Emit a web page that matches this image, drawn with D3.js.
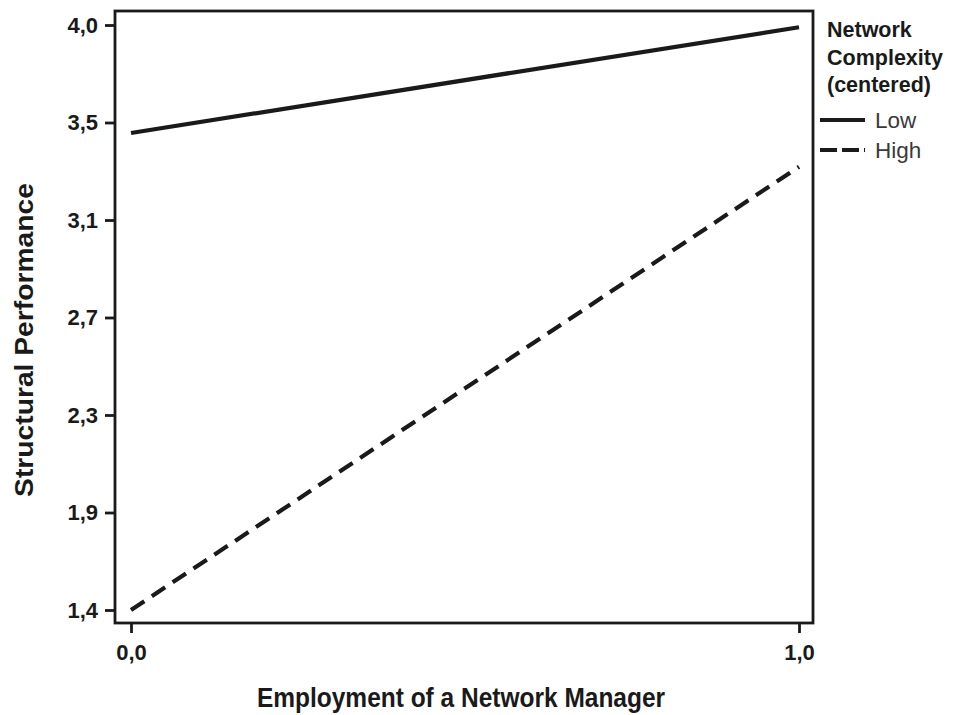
<!DOCTYPE html>
<html>
<head>
<meta charset="utf-8">
<script src="https://cdn.jsdelivr.net/npm/d3@7"></script>
<style>
  body { margin: 0; background: #fff; }
  svg { display: block; font-family: "Liberation Sans", Arial, sans-serif; }
</style>
</head>
<body>
<svg id="chart" width="953" height="715"></svg>
<script>
// Predicted structural performance at the two levels of manager employment
const xValues = [0, 1];
const seriesNames = ["Low", "High"];
const lowValues = [3.52, 3.99];
const highValues = [1.40, 3.37];

// Axis ticks (evenly spaced between 1.4 and 4.0, labelled with rounded values)
const yTickValues = [1.4, 1.8333, 2.2667, 2.7, 3.1333, 3.5667, 4.0];
const yTickLabels = ["1,4", "1,9", "2,3", "2,7", "3,1", "3,5", "4,0"];
const xTickValues = [0, 1];
const xTickLabels = ["0,0", "1,0"];

const svg = d3.select("#chart");
const frame = { left: 115, right: 813, top: 11, bottom: 623 };
const ink = "#1a1a1a";

const x = d3.scaleLinear().domain([0, 1]).range([131, 799]);
const y = d3.scaleLinear().domain([1.4, 4.0]).range([610, 25]);

// Plot frame
svg.append("rect")
  .attr("x", frame.left).attr("y", frame.top)
  .attr("width", frame.right - frame.left)
  .attr("height", frame.bottom - frame.top)
  .attr("fill", "none").attr("stroke", ink).attr("stroke-width", 2.8);

// Y axis
const yAxis = d3.axisLeft(y)
  .tickValues(yTickValues)
  .tickSize(10)
  .tickPadding(7)
  .tickFormat((d, i) => yTickLabels[i]);
const gy = svg.append("g").attr("transform", `translate(${frame.left},0)`).call(yAxis);
gy.select(".domain").remove();
gy.selectAll(".tick line").attr("stroke", ink).attr("stroke-width", 2.8);
gy.selectAll(".tick text")
  .attr("fill", ink).attr("font-size", 22).attr("font-weight", "bold");

// X axis
const xAxis = d3.axisBottom(x)
  .tickValues(xTickValues)
  .tickSize(10)
  .tickPadding(11)
  .tickFormat((d, i) => xTickLabels[i]);
const gx = svg.append("g").attr("transform", `translate(0,${frame.bottom})`).call(xAxis);
gx.select(".domain").remove();
gx.selectAll(".tick line").attr("stroke", ink).attr("stroke-width", 2.8);
gx.selectAll(".tick text")
  .attr("fill", ink).attr("font-size", 22).attr("font-weight", "bold");

// Axis titles
svg.append("text")
  .attr("transform", "translate(461,707) scale(1,1.13)")
  .attr("text-anchor", "middle")
  .attr("font-size", 24.5).attr("font-weight", "bold").attr("fill", ink)
  .text("Employment of a Network Manager");

svg.append("text")
  .attr("transform", "translate(33,340) scale(1,1.13) rotate(-90)")
  .attr("text-anchor", "middle")
  .attr("font-size", 25).attr("font-weight", "bold").attr("fill", ink)
  .text("Structural Performance");

// Lines
const line = d3.line().x((d, i) => x(xValues[i])).y(d => y(d));
const dashes = { Low: null, High: "16,9" };
[lowValues, highValues].forEach((vals, k) => {
  svg.append("path")
    .datum(vals)
    .attr("d", line)
    .attr("fill", "none")
    .attr("stroke", ink)
    .attr("stroke-width", 4.2)
    .attr("stroke-dasharray", dashes[seriesNames[k]]);
});

// Legend
const legend = svg.append("g").attr("transform", "translate(820,0)");
["Network", "Complexity", "(centered)"].forEach((t, i) => {
  legend.append("text")
    .attr("x", 7).attr("y", 37 + i * 27.5)
    .attr("font-size", 21.5).attr("font-weight", "bold").attr("fill", ink)
    .text(t);
});
seriesNames.forEach((name, i) => {
  const yy = 120 + i * 30;
  legend.append("line")
    .attr("x1", 0).attr("x2", 45).attr("y1", yy).attr("y2", yy)
    .attr("stroke", ink).attr("stroke-width", 4.2)
    .attr("stroke-dasharray", dashes[name] ? "17,5" : null);
  legend.append("text")
    .attr("x", 55).attr("y", yy + 8)
    .attr("font-size", 22.5).attr("fill", "#3a3a3a")
    .text(name);
});
</script>
</body>
</html>
